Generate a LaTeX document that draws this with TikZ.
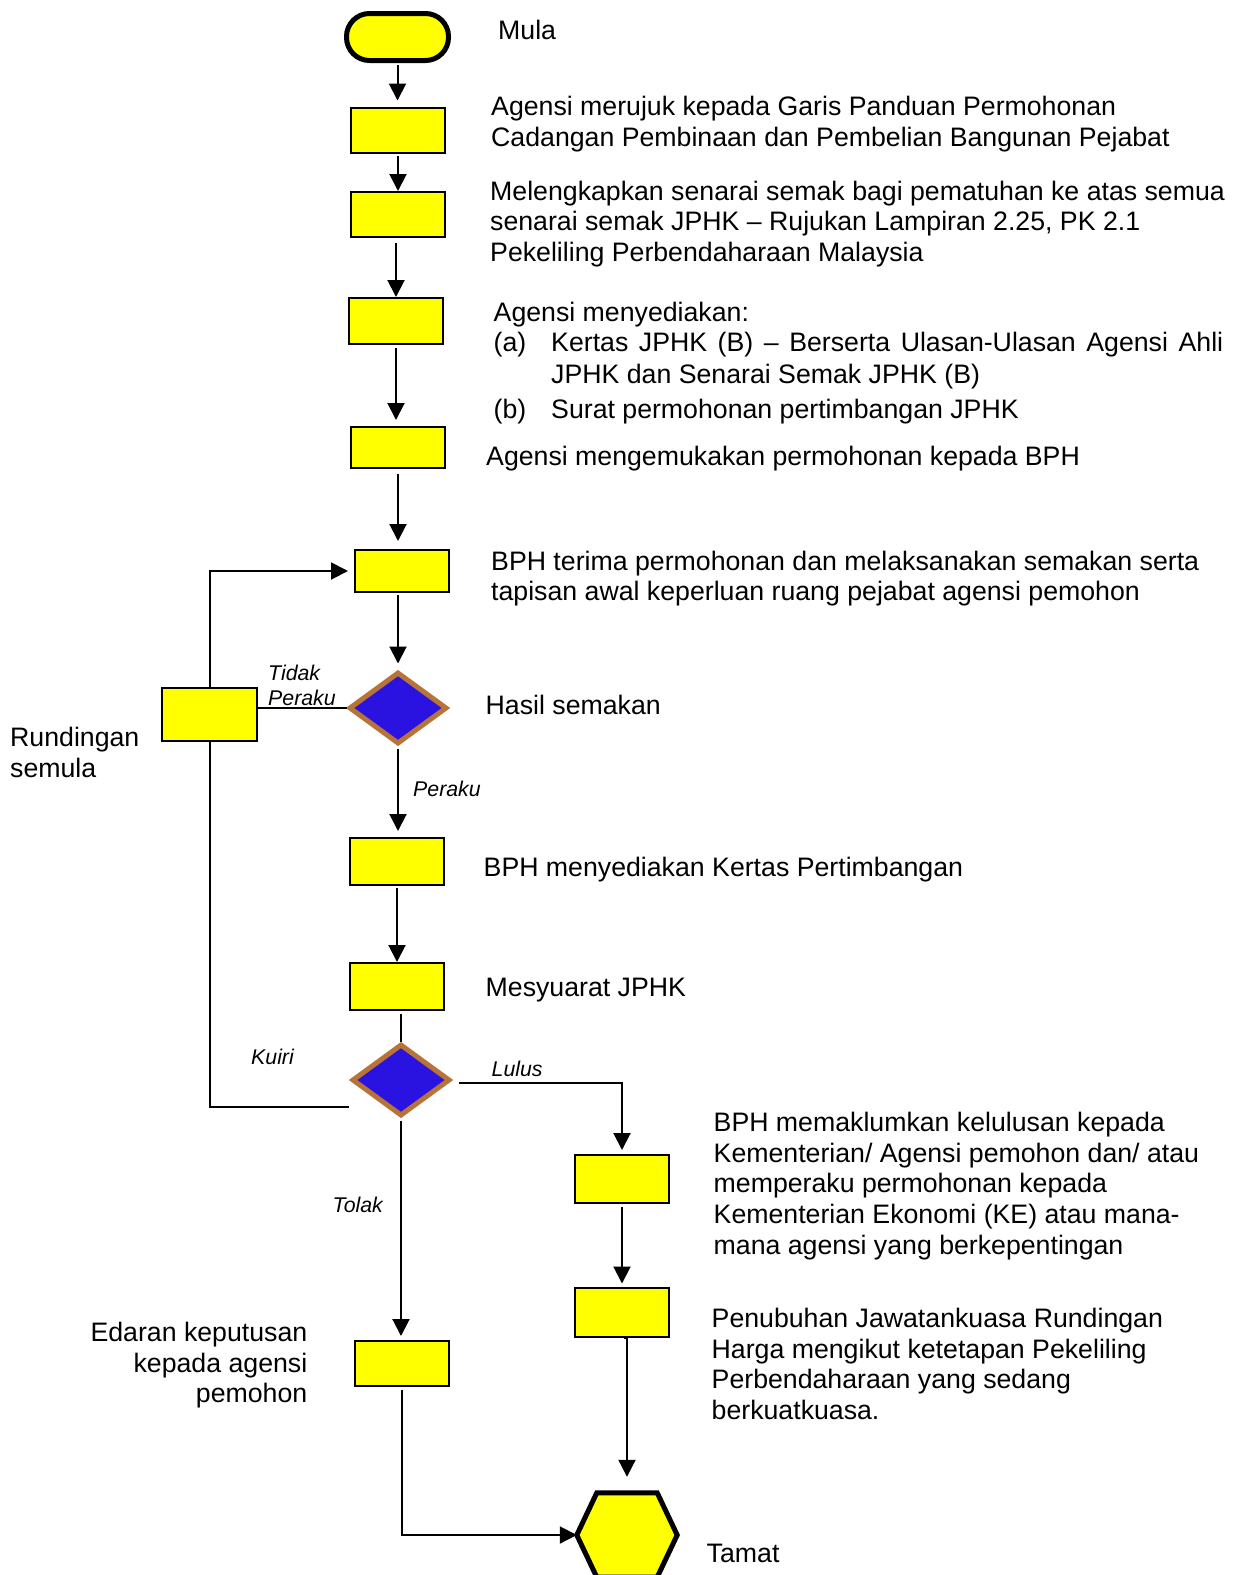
\documentclass[tikz,border=0pt]{standalone}
\usepackage{fontspec}
\setmainfont{Liberation Sans}
\usetikzlibrary{shapes.geometric,arrows.meta}
\definecolor{boxyellow}{RGB}{255,255,0}
\definecolor{dblue}{RGB}{42,18,224}
\definecolor{dbrown}{RGB}{184,116,56}
\begin{document}
\begin{tikzpicture}[x=1pt,y=-1pt,
 proc/.style={draw=black, line width=2pt, fill=boxyellow, minimum width=94pt, minimum height=45pt, inner sep=0pt},
 dec/.style={diamond, draw=dbrown, line width=5pt, fill=dblue, minimum width=98pt, minimum height=72pt, inner sep=0pt},
 arr/.style={line width=2pt, -{Triangle[length=17pt,width=17pt]}},
 ln/.style={line width=2pt},
 txt/.style={anchor=north west, inner sep=0pt, align=left, font=\fontsize{26.7}{30.7}\selectfont},
 lab/.style={anchor=north west, inner sep=0pt, align=left, font=\fontsize{21.3}{25.5}\selectfont\itshape}
]
\useasboundingbox (0,0) rectangle (1241,1575);
\fill[white] (0,0) rectangle (1241,1575);

% shapes
\node (start) [draw=black, line width=5pt, fill=boxyellow, rounded corners=23pt, minimum width=102pt, minimum height=47pt, inner sep=0pt] at (397.5,37) {};
\node (b1) [proc] at (398,130) {};
\node (b2) [proc] at (398,214.5) {};
\node (b3) [proc, minimum height=46pt] at (396,321) {};
\node (b4) [proc, minimum height=41pt] at (398,447.5) {};
\node (b5) [proc, minimum height=42pt] at (402,571) {};
\node (d1) [dec] at (398,708) {};
\node (rund) [proc, minimum width=95pt, minimum height=53pt] at (209.5,714.5) {};
\node (b6) [proc, minimum height=47pt] at (397,861.5) {};
\node (b7) [proc, minimum height=47pt] at (397,986.5) {};
\node (d2) [dec] at (401,1080) {};
\node (b8) [proc, minimum height=48pt] at (622,1179) {};
\node (b9) [proc, minimum height=49pt] at (622,1312) {};
\node (b10) [proc, minimum height=45pt] at (402,1363.5) {};
\node (end) [minimum width=100pt, minimum height=84pt, inner sep=0pt] at (627,1535) {};
\draw[line width=5pt, fill=boxyellow, line join=miter] (end.west) -- ([xshift=20pt]end.north west) -- ([xshift=-20pt]end.north east) -- (end.east) -- ([xshift=-20pt]end.south east) -- ([xshift=20pt]end.south west) -- cycle;
\coordinate (kq) at (349,1107);
\coordinate (lq) at (459,1083);

% connectors
\draw[arr, shorten <=2pt, shorten >=6pt] (start.south) -- (start.south |- b1.north);
\draw[arr, shorten <=2pt, shorten >=0pt] (b1.south) -- (b1.south |- b2.north);
\draw[arr, shorten <=5pt, shorten >=0pt] (b3.north |- b2.south) -- (b3.north);
\draw[arr, shorten <=3pt, shorten >=6pt] (b3.south) -- (b3.south |- b4.north);
\draw[arr, shorten <=5pt, shorten >=8pt] (b4.south) -- (b4.south |- b5.north);
\draw[arr, shorten <=2pt, shorten >=6pt] (d1.north |- b5.south) -- (d1.north);
\draw[ln] (d1.west) -- (d1.west -| rund.east);
\draw[arr, shorten >=6pt] (rund.north) |- (b5.west);
\draw[ln] (rund.south) |- (kq);
\draw[arr, shorten <=2pt, shorten >=6pt] (d1.south) -- (d1.south |- b6.north);
\draw[arr, shorten <=2pt, shorten >=0pt] (b6.south) -- (b6.south |- b7.north);
\draw[ln, shorten <=3pt] (d2.north |- b7.south) -- (d2.north);
\draw[arr, shorten >=4pt] (lq) -| (b8.north);
\draw[arr, shorten <=2pt, shorten >=4pt] (d2.south) -- (d2.south |- b10.north);
\draw[arr, shorten <=3pt, shorten >=3pt] (b8.south) -- (b9.north);
\draw[arr, shorten <=2pt, shorten >=16pt] (b9.south) -- (b9.south -| end.north) -- (end.north);
\draw[arr, shorten <=3pt] (b10.south) |- (end.west);

% texts
\node[txt] (tmula) at (498,19.5) {Mula};
\node[txt] (t1) at (491,96) {Agensi merujuk kepada Garis Panduan Permohonan\\Cadangan Pembinaan dan Pembelian Bangunan Pejabat};
\node[txt] (t2) at (490,180.5) {Melengkapkan senarai semak bagi pematuhan ke atas semua\\senarai semak JPHK – Rujukan Lampiran 2.25, PK 2.1\\Pekeliling Perbendaharaan Malaysia};
\node[txt] (t3) at (493.5,302) {Agensi menyediakan:};
\node[txt] (t3a) at (493.5,332) {(a)};
\node[txt, font=\fontsize{26.7}{32.2}\selectfont] (t3at) at (551,332) {\makebox[672pt][s]{Kertas JPHK (B) – Berserta Ulasan-Ulasan Agensi Ahli}\\JPHK dan Senarai Semak JPHK (B)};
\node[txt] (t3b) at (493.5,398.5) {(b)};
\node[txt] (t3bt) at (551,398.5) {Surat permohonan pertimbangan JPHK};
\node[txt] (t4) at (486,445.5) {Agensi mengemukakan permohonan kepada BPH};
\node[txt] (t5) at (491,550.5) {BPH terima permohonan dan melaksanakan semakan serta\\tapisan awal keperluan ruang pejabat agensi pemohon};
\node[txt] (thasil) at (485.5,695) {Hasil semakan};
\node[txt] (trund) at (10,727) {Rundingan\\semula};
\node[lab] (ltp) at (268,664.5) {Tidak\\Peraku};
\node[lab] (lper) at (413,780.5) {Peraku};
\node[txt] (t6) at (483.5,856.5) {BPH menyediakan Kertas Pertimbangan};
\node[txt] (t7) at (485.5,977.5) {Mesyuarat JPHK};
\node[lab] (lkuiri) at (251,1048.5) {Kuiri};
\node[lab] (llulus) at (491.5,1060.5) {Lulus};
\node[txt] (t8) at (713.5,1112) {BPH memaklumkan kelulusan kepada\\Kementerian/ Agensi pemohon dan/ atau\\memperaku permohonan kepada\\Kementerian Ekonomi (KE) atau mana-\\mana agensi yang berkepentingan};
\node[lab] (ltolak) at (332.5,1196.5) {Tolak};
\node[txt] (t9) at (711.5,1308) {Penubuhan Jawatankuasa Rundingan\\Harga mengikut ketetapan Pekeliling\\Perbendaharaan yang sedang\\berkuatkuasa.};
\node[txt, anchor=north east, align=right] (t10) at (307.5,1322) {Edaran keputusan\\kepada agensi\\pemohon};
\node[txt] (ttamat) at (706.5,1544) {Tamat};
\end{tikzpicture}
\end{document}
